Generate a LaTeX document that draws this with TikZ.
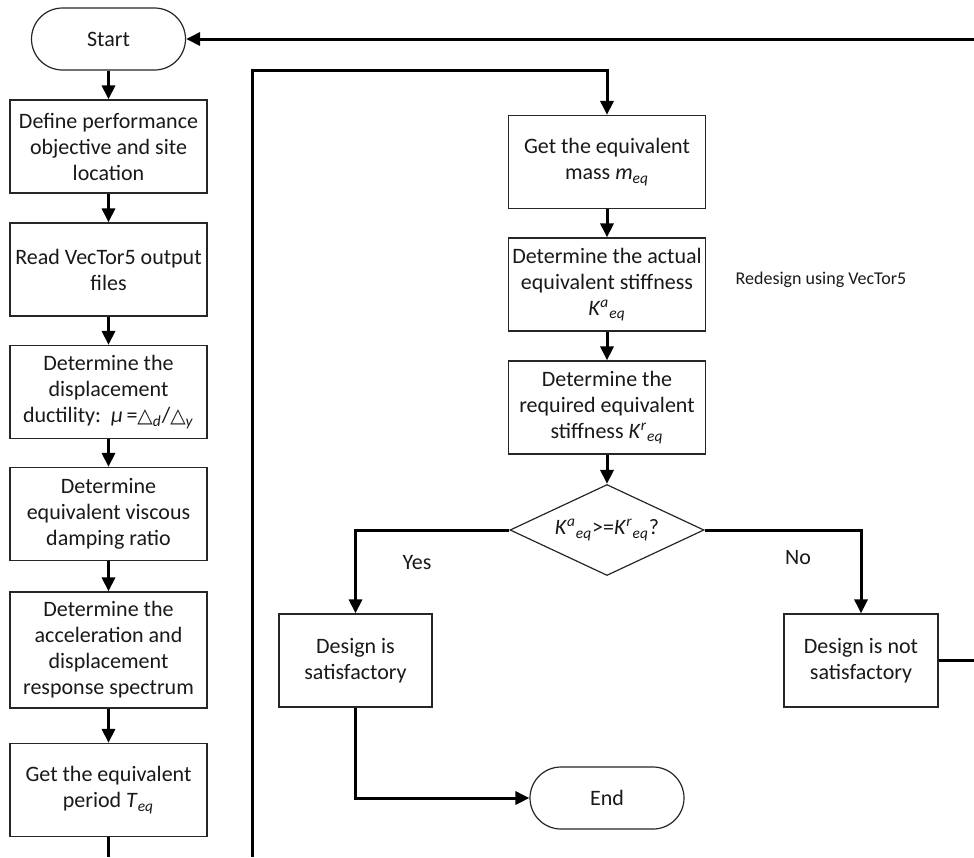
\documentclass[tikz,border=0pt]{standalone}
\usepackage{fontspec}
\setmainfont{Carlito}
\newfontfamily\dejavu{DejaVu Sans}
\usetikzlibrary{shapes.geometric,arrows.meta,calc}
\newcommand{\sbi}[1]{\textsubscript{\textit{#1}}}
\newcommand{\spi}[1]{\textsuperscript{\textit{#1}}}
\newcommand{\tri}{{\dejavu\fontsize{10}{12}\selectfont △}}
\begin{document}
\begin{tikzpicture}[x=0.5pt,y=-0.5pt,
  every node/.style={font=\fontsize{11}{13}\selectfont, text=black!90},
  box/.style={draw=black!85, line width=0.6pt, fill=white, minimum width=98.5pt,
    minimum height=46.5pt, align=center, inner sep=1pt},
  term/.style={draw=black!85, line width=0.6pt, rounded corners=15.5pt,
    minimum width=77pt, minimum height=31pt, inner sep=1pt},
  dec/.style={draw=black!85, line width=0.6pt, diamond, aspect=2.1, inner sep=0pt,
    minimum width=97pt, minimum height=45.5pt},
  conn/.style={line width=1.5pt, black},
  arr/.style={conn, -{Triangle[width=6.5pt,length=7pt]}},
  lbl/.style={inner sep=1pt}
]
\useasboundingbox (0,0) rectangle (974,857);

% left column
\node[term] (start) at (108.5,39) {Start};
\node[box] (b1) at (108.5,146.5) {Define performance\\objective and site\\location};
\node[box] (b2) at (108.5,269.5) {Read VecTor5 output\\files};
\node[box] (b3) at (108.5,392) {Determine the\\displacement\\ductility:\ \ \textit{μ}\,=\tri\sbi{d}/\tri\sbi{y}};
\node[box] (b4) at (108.5,514) {Determine\\equivalent viscous\\damping ratio};
\node[box, minimum height=58pt] (b5) at (108.5,650) {Determine the\\acceleration and\\displacement\\response spectrum};
\node[box] (b6) at (108.5,790) {Get the equivalent\\period \textit{T}\sbi{eq}};

% right column
\node[box] (m1) at (607,162) {Get the equivalent\\mass \textit{m}\sbi{eq}};
\node[box] (m2) at (607,284.5) {Determine the actual\\equivalent stiffness\\\textit{K}\spi{a}\sbi{eq}};
\node[box] (m3) at (607,407.5) {Determine the\\required equivalent\\stiffness \textit{K}\spi{r}\sbi{eq}};
\node[dec] (dia) at (607,530) {\textit{K}\spi{a}\sbi{eq}>=\textit{K}\spi{r}\sbi{eq}?};

\node[box, minimum width=76.5pt] (ds) at (355.5,660.5) {Design is\\satisfactory};
\node[box, minimum width=77pt] (dn) at (861,660.5) {Design is not\\satisfactory};
\node[term] (end) at (607,798) {End};

% labels
\node[lbl] (yes) at (417,563) {Yes};
\node[lbl] (no) at (798,558) {No};
\node[lbl, font=\fontsize{9}{11}\selectfont] (redesign) at (821,280) {Redesign using VecTor5};

% coordinates on the picture's edges
\coordinate (bl) at (108.5,857);
\coordinate (lb) at (252,857);
\coordinate (lt) at (607,70);
\coordinate (re) at (974,660.5);
\coordinate (rt) at (974,39);

% connectors
\draw[arr] (start) -- (b1);
\draw[arr] (b1) -- (b2);
\draw[arr] (b2) -- (b3);
\draw[arr] (b3) -- (b4);
\draw[arr] (b4) -- (b5);
\draw[arr] (b5) -- (b6);
\draw[conn] (b6.south) -- (bl);
\draw[arr] (lb) |- (lt) -- (m1.north);
\draw[arr] (m1) -- (m2);
\draw[arr] (m2) -- (m3);
\draw[arr] (m3) -- (dia.north);
\draw[arr] (dia.west) -| (ds.north);
\draw[arr] (dia.east) -| (dn.north);
\draw[arr] (ds.south) |- (end.west);
\draw[conn] (dn.east) -- (re);
\draw[arr] (rt) -- (start.east);
\end{tikzpicture}
\end{document}
